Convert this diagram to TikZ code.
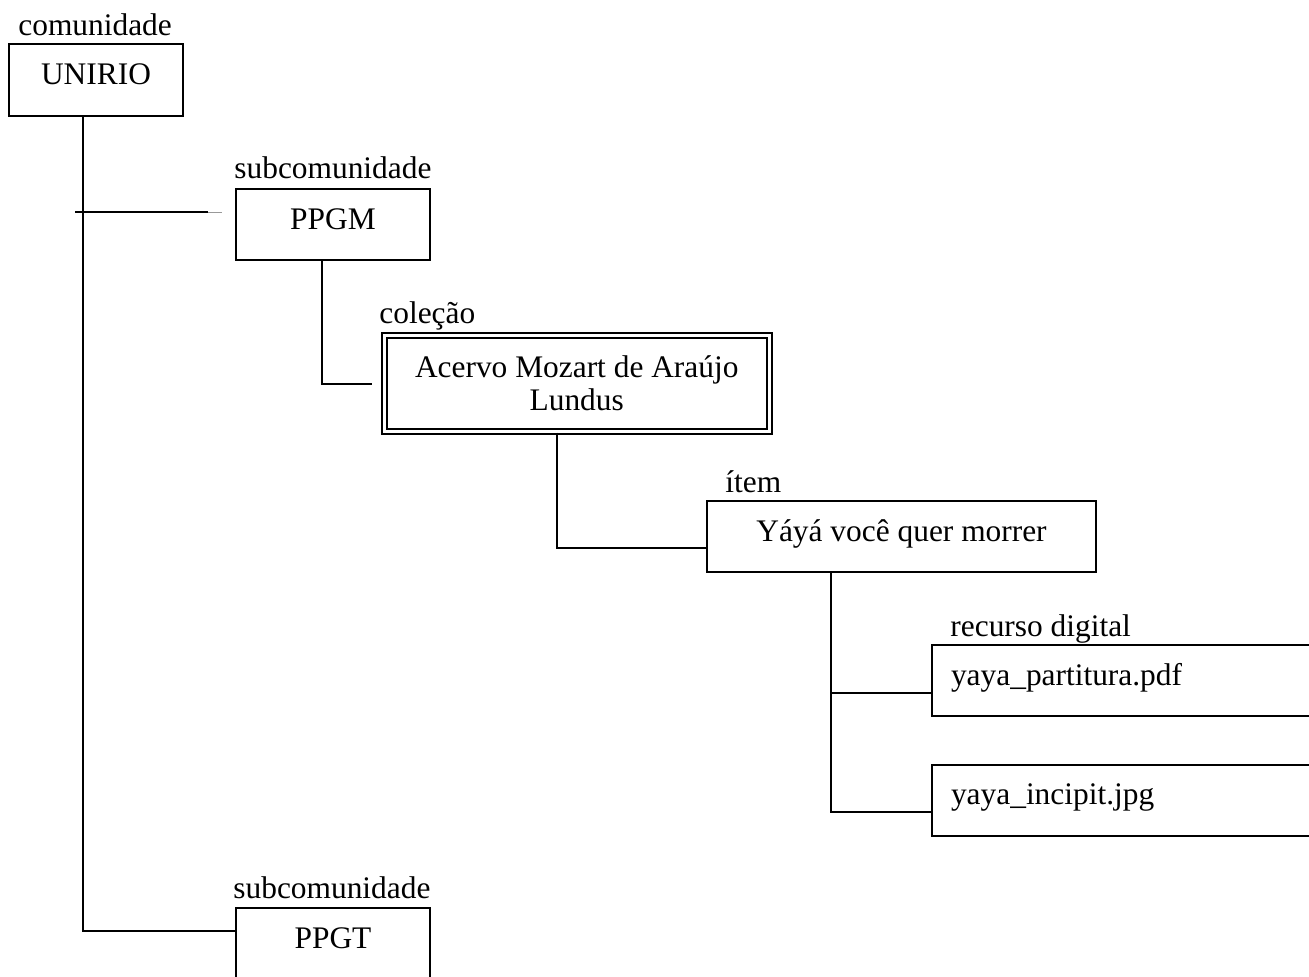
\documentclass[tikz,border=0pt]{standalone}
\usepackage{fontspec}
\setmainfont{Liberation Serif}
\usetikzlibrary{positioning}

\tikzset{
  box/.style={draw=black, line width=1pt, rectangle, inner sep=0pt, text height=12pt, text depth=7.5pt},
  recurso/.style={box, anchor=west, minimum height=35.5pt, inner xsep=9.5pt, text width=185.5pt, align=left},
  tag/.style={anchor=base west, inner sep=0pt},
  link/.style={draw=black, line width=1pt},
}

\begin{document}
\begin{tikzpicture}[x=0.5pt,y=-0.5pt,font=\fontsize{15.7pt}{16.5pt}\selectfont]
  \useasboundingbox (0,0) rectangle (1309,976);
  \clip (0,0) rectangle (1309,976);

  % caixas
  \node[box,minimum width=87pt,minimum height=36pt] (unirio) at (96,80) {UNIRIO};
  \node[box,minimum width=97pt,minimum height=35.5pt] (ppgm) at (333,224.5) {PPGM};
  \node[draw,double,line width=1pt,double distance=1.5pt,inner sep=0pt,
        minimum width=192.25pt,minimum height=48pt,align=center] (colecao) at (576.75,383.5)
        {Acervo Mozart de Araújo\\Lundus};
  \node[box,minimum width=194.5pt,minimum height=35.5pt] (item) at (901.5,536.5) {Yáyá você quer morrer};
  \node[recurso] (partitura) at (931,680.5) {yaya\_partitura.pdf};
  \node[recurso] (incipit) at (931,800) {yaya\_incipit.jpg};
  \node[box,minimum width=97pt,minimum height=35.5pt] (ppgt) at (333,943.5) {PPGT};

  % tipos
  \node[tag] (tunirio) at (18,35) {comunidade};
  \node[tag] (tppgm) at (234,178) {subcomunidade};
  \node[tag] (tcolecao) at (379,323) {coleção};
  \node[tag] (titem) at (725,492) {ítem};
  \node[tag] (trecurso) at (950,636) {recurso digital};
  \node[tag] (tppgt) at (233,898) {subcomunidade};

  % ligacoes
  \coordinate (tronco) at (83,0);
  \draw[link] (tronco |- unirio.south) |- ([yshift=-12pt]ppgt.north west);

  \coordinate (ramo) at (75,212);
  \draw[link] (ramo) -- ++(133,0) coordinate (ramofim);
  \draw[black!40,line width=0.5pt] (ramofim) -- ++(14,0);

  \coordinate (cppgm) at ([xshift=-5.5pt]ppgm.south);
  \draw[link] (cppgm) |- ([xshift=-6pt]colecao.west);

  \coordinate (ccol) at ([xshift=-10pt]colecao.south);
  \draw[link] (ccol) |- ([yshift=-5.75pt]item.west);

  \coordinate (citem) at ([xshift=-35.25pt]item.south);
  \coordinate (epart) at ([yshift=-6pt]partitura.west);
  \coordinate (einc) at ([yshift=-6pt]incipit.west);
  \draw[link] (citem) |- (einc);
  \draw[link] (citem |- epart) -- (epart);
\end{tikzpicture}
\end{document}
